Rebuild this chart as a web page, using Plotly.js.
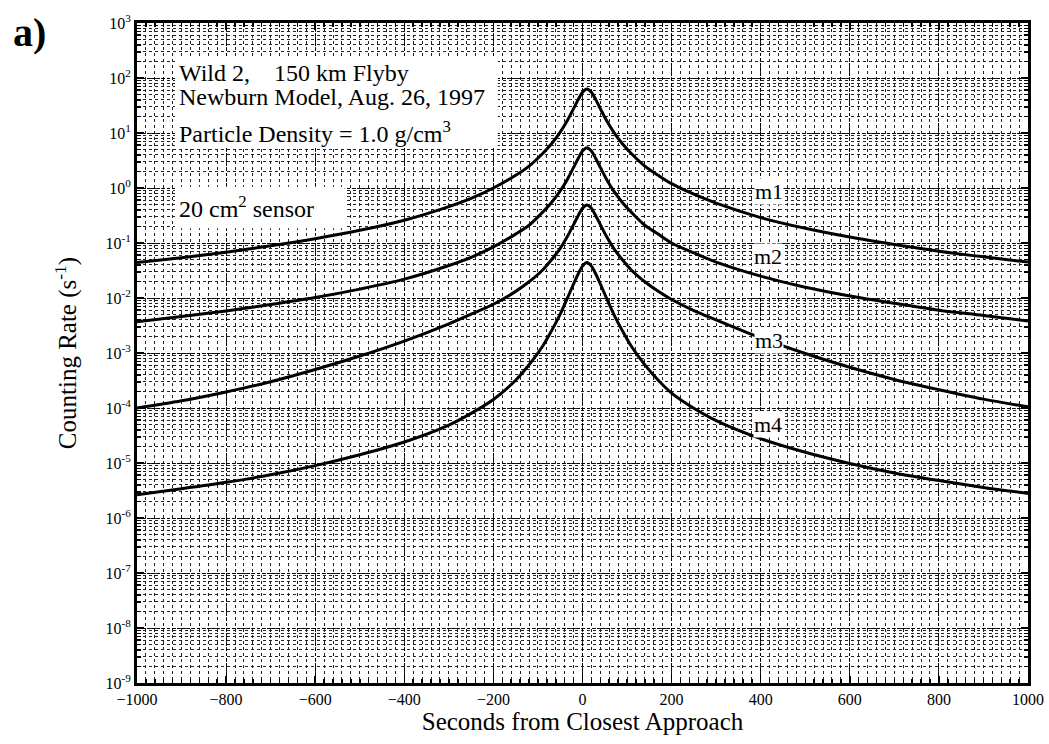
<!DOCTYPE html>
<html>
<head>
<meta charset="utf-8">
<script src="https://cdn.plot.ly/plotly-3.0.1.min.js"></script>
<style>
  html, body { margin: 0; padding: 0; background: #fff; }
  #chart { width: 1049px; height: 744px; }
</style>
</head>
<body>
<div id="chart"></div>
<script>
// Time from closest approach (s)
const seconds = [-1000, -900, -800, -700, -600, -500, -400, -300, -250, -200, -150, -120, -90, -70, -50, -35, -20, -10, 0,
                 10,
                 20, 30, 40, 55, 70, 90, 110, 140, 170, 200, 250, 300, 400, 500, 600, 700, 800, 900, 1000];

// Counting rates (s^-1) for the four mass thresholds
const m1 = [0.044, 0.054, 0.068, 0.089, 0.12, 0.17, 0.26, 0.46, 0.65, 1.0, 1.7, 2.5, 4.2, 6.3, 10.4, 16.3, 27.8, 40, 55,
            63,
            55, 40, 27.8, 16.3, 10.4, 6.3, 4.2, 2.5, 1.7, 1.2, 0.77, 0.53, 0.29, 0.185, 0.128, 0.094, 0.071, 0.056, 0.045];
const m2 = [0.0037, 0.0046, 0.0058, 0.0076, 0.0102, 0.0145, 0.022, 0.039, 0.055, 0.085, 0.145, 0.21, 0.36, 0.54, 0.89, 1.39, 2.37, 3.4, 4.7,
            5.4,
            4.7, 3.4, 2.37, 1.39, 0.89, 0.54, 0.36, 0.21, 0.145, 0.10, 0.066, 0.045, 0.025, 0.0157, 0.0109, 0.0080, 0.0060, 0.0048, 0.0038];
const m3 = [1.0e-4, 1.35e-4, 1.96e-4, 3.0e-4, 5.0e-4, 8.8e-4, 1.65e-3, 3.4e-3, 5.1e-3, 7.7e-3, 0.0132, 0.0197, 0.032, 0.049, 0.080, 0.127, 0.216, 0.31, 0.43,
            0.49,
            0.43, 0.31, 0.216, 0.127, 0.080, 0.049, 0.032, 0.0197, 0.0132, 9.4e-3, 5.9e-3, 4.0e-3, 1.88e-3, 9.8e-4, 5.5e-4, 3.3e-4, 2.15e-4, 1.45e-4, 1.05e-4];
const m4 = [2.65e-6, 3.4e-6, 4.45e-6, 6.1e-6, 8.95e-6, 1.41e-5, 2.41e-5, 4.9e-5, 8.0e-5, 1.43e-4, 3.2e-4, 6.1e-4, 1.31e-3, 2.5e-3, 5.1e-3, 9.5e-3, 0.018, 0.027, 0.038,
            0.044,
            0.038, 0.027, 0.018, 9.5e-3, 5.1e-3, 2.5e-3, 1.31e-3, 6.1e-4, 3.2e-4, 1.87e-4, 9.9e-5, 5.9e-5, 2.77e-5, 1.57e-5, 9.8e-6, 6.6e-6, 4.8e-6, 3.6e-6, 2.8e-6];

const seriesNames = ['m1', 'm2', 'm3', 'm4'];
const seriesValues = [m1, m2, m3, m4];

// Curve label placement (seconds, rate)
const labelSeconds = [419, 416, 419, 416];
const labelRates = [0.85, 0.056, 0.0017, 5.1e-5];

// Axis ticks
const xTickVals = [-1000, -800, -600, -400, -200, 0, 200, 400, 600, 800, 1000];
const yExponents = [3, 2, 1, 0, -1, -2, -3, -4, -5, -6, -7, -8, -9];
const yTickVals = yExponents.map(e => Math.pow(10, e));
const yTickText = yExponents.map(e => '10<sup>' + e + '</sup>');

const serif = 'Liberation Serif, Times New Roman, serif';

const traces = seriesValues.map((vals, i) => ({
  type: 'scatter',
  mode: 'lines',
  name: seriesNames[i],
  x: seconds,
  y: vals,
  line: { color: '#000', width: 3, shape: 'spline', smoothing: 0.9 },
  hoverinfo: 'skip',
  showlegend: false
}));

const curveLabels = seriesNames.map((n, i) => ({
  x: labelSeconds[i], y: Math.log10(labelRates[i]),
  xref: 'x', yref: 'y',
  text: n, showarrow: false,
  font: { family: serif, size: 22, color: '#000' },
  bgcolor: '#fff', borderpad: 0
}));

const infoLines = [
  { text: 'Wild 2,&nbsp;&nbsp;&nbsp;&nbsp;150 km Flyby', y: 0.924 },
  { text: 'Newburn Model, Aug. 26, 1997', y: 0.888 },
  { text: 'Particle Density = 1.0 g/cm<sup>3</sup>', y: 0.835 },
  { text: '20 cm<sup>2</sup> sensor', y: 0.721 }
].map(l => ({
  xref: 'paper', yref: 'paper', x: 0.045, y: l.y,
  xanchor: 'left', yanchor: 'middle',
  text: l.text, showarrow: false,
  font: { family: serif, size: 24, color: '#000' }
}));

const panelLabel = {
  xref: 'paper', yref: 'paper', x: -0.141, y: 0.986,
  xanchor: 'left', yanchor: 'middle',
  text: '<b>a)</b>', showarrow: false,
  font: { family: serif, size: 40, color: '#000' }
};

const layout = {
  width: 1049, height: 744,
  margin: { l: 137, r: 21, t: 23, b: 61 },
  paper_bgcolor: '#fff',
  plot_bgcolor: '#fff',
  xaxis: {
    range: [-1000, 1000],
    tickmode: 'array', tickvals: xTickVals,
    ticks: 'inside', ticklen: 7, tickwidth: 1.5, tickcolor: '#000',
    showline: true, linecolor: '#000', linewidth: 3, mirror: 'ticks',
    showgrid: true, gridcolor: '#000', gridwidth: 1, griddash: '3px,2px',
    zeroline: false,
    tickfont: { family: serif, size: 16, color: '#000' },
    title: { text: 'Seconds from Closest Approach', font: { family: serif, size: 25, color: '#000' }, standoff: 6 },
    minor: { dtick: 20, ticks: 'inside', ticklen: 4, tickcolor: '#000',
             showgrid: true, gridcolor: '#222', gridwidth: 1, griddash: 'dot' }
  },
  yaxis: {
    type: 'log',
    range: [-9, 3],
    tickmode: 'array', tickvals: yTickVals, ticktext: yTickText,
    ticks: 'inside', ticklen: 7, tickwidth: 1.5, tickcolor: '#000',
    showline: true, linecolor: '#000', linewidth: 3, mirror: 'ticks',
    showgrid: true, gridcolor: '#000', gridwidth: 1, griddash: '3px,2px',
    zeroline: false,
    tickfont: { family: serif, size: 16, color: '#000' },
    title: { text: 'Counting Rate (s<sup>-1</sup>)', font: { family: serif, size: 25, color: '#000' }, standoff: 22 },
    minor: { tickmode: 'linear', dtick: 'D1', ticks: 'inside', ticklen: 4, tickcolor: '#000',
             showgrid: true, gridcolor: '#222', gridwidth: 1, griddash: 'dot' }
  },
  shapes: [
    { type: 'rect', xref: 'paper', yref: 'paper', x0: 0.0426, x1: 0.405, y0: 0.812, y1: 0.948,
      fillcolor: '#fff', line: { width: 0 }, layer: 'above' },
    { type: 'rect', xref: 'paper', yref: 'paper', x0: 0.0426, x1: 0.233, y0: 0.689, y1: 0.752,
      fillcolor: '#fff', line: { width: 0 }, layer: 'above' }
  ],
  annotations: [...infoLines, ...curveLabels, panelLabel],
  showlegend: false
};

Plotly.newPlot('chart', traces, layout, { staticPlot: true, displayModeBar: false });
</script>
</body>
</html>
